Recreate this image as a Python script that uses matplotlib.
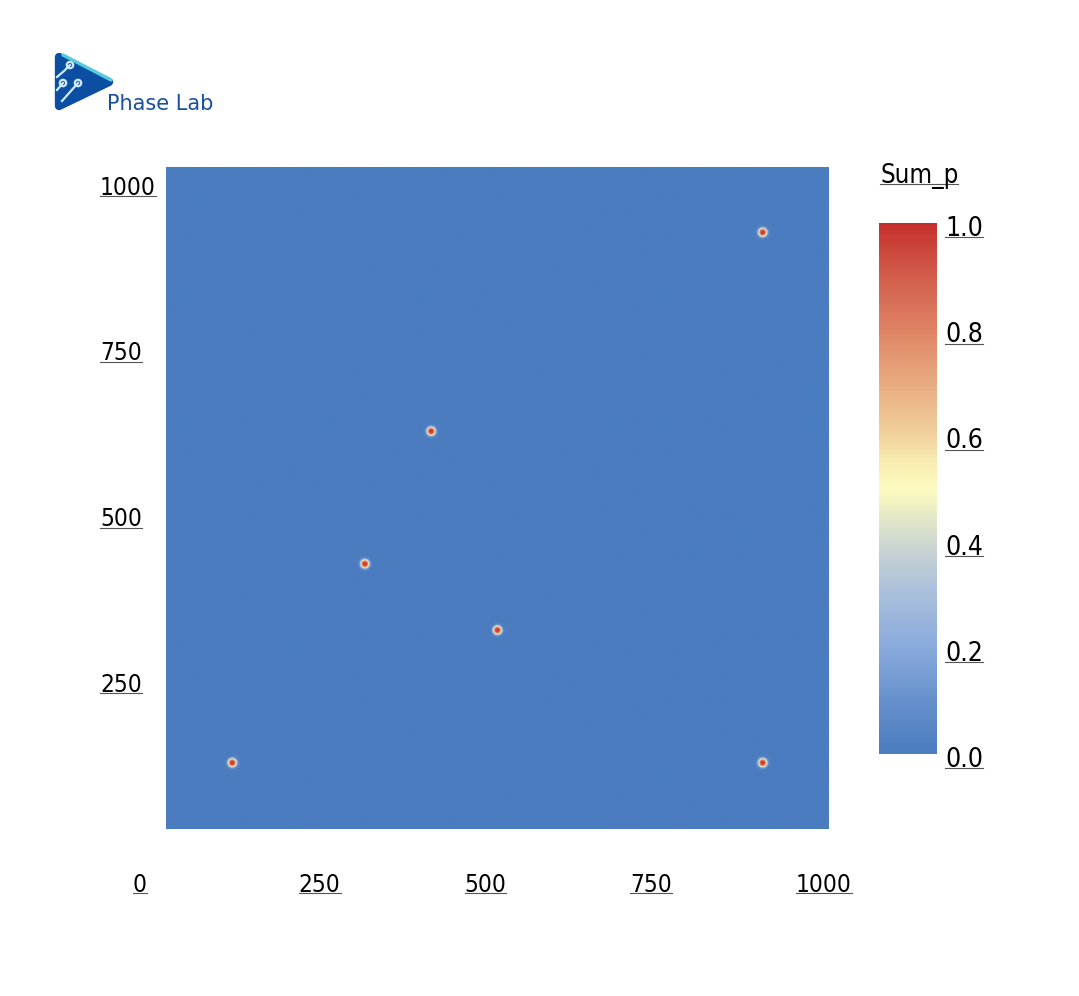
import numpy as np
import matplotlib
matplotlib.use("Agg")
import matplotlib.pyplot as plt
from matplotlib import transforms, font_manager
from matplotlib.font_manager import FontProperties
from matplotlib.colors import LinearSegmentedColormap, Normalize
from matplotlib.cm import ScalarMappable
from matplotlib.patches import Polygon, Circle
from matplotlib.lines import Line2D

# ---------------- data ----------------
seed_x = [100, 300, 400, 500, 900, 900]
seed_y = [100, 400, 600, 300, 900, 100]
seed_radius = 6.0
interface_width = 2.5
domain = [0, 1000]
x_ticks = [0, 250, 500, 750, 1000]
y_ticks = [250, 500, 750, 1000]
cbar_ticks = [0.0, 0.2, 0.4, 0.6, 0.8, 1.0]
cbar_title = "Sum_p"
logo_text = "Phase Lab"

cmap_positions = [0.00, 0.10, 0.20, 0.30, 0.38, 0.45, 0.50, 0.55, 0.60, 0.70, 0.80, 0.90, 1.00]
cmap_colors = ["#4a7cbf", "#6690cc", "#89aadc", "#a9bfdc", "#c6d2d4", "#e6eac6", "#fdfbc0",
               "#f8ecb0", "#f1d29c", "#e9ab80", "#de8264", "#d25e4c", "#c6302c"]

# ---------------- fonts ----------------
ttf = font_manager.fontManager.ttflist
names = {f.name for f in ttf}
_font_path = None
if "Liberation Sans Narrow" in names:
    _font_path = [f.fname for f in ttf if f.name == "Liberation Sans Narrow" and f.weight in (400, "normal", "regular") and f.style == "normal"]
    _font_path = _font_path[0] if _font_path else None
if _font_path is None:
    cond = [f.fname for f in ttf if f.name == "DejaVu Sans" and "condensed" in str(f.stretch) and f.style == "normal" and f.weight in (400, "normal")]
    _font_path = cond[0] if cond else None


def fp(size):
    if _font_path:
        p = FontProperties(fname=_font_path)
    else:
        p = FontProperties(family="Roboto")
    p.set_size(size)
    return p


# ---------------- figure ----------------
W, H = 1079, 996
fig = plt.figure(figsize=(W / 100, H / 100), dpi=100)
fig.patch.set_facecolor("white")


def px_rect(l, t, r, b):
    return [l / W, 1 - b / H, (r - l) / W, (b - t) / H]


cmap = LinearSegmentedColormap.from_list("sum_p", list(zip(cmap_positions, cmap_colors)))
norm = Normalize(vmin=0.0, vmax=1.0)

ax = fig.add_axes(px_rect(166, 166, 829, 830))
xs = np.arange(domain[0] + 0.5, domain[1], 1.0)
X, Y = np.meshgrid(xs, xs)
field = np.zeros_like(X)
for sx, sy in zip(seed_x, seed_y):
    r = np.hypot(X - sx, Y - sy)
    field += 0.5 * (1 - np.tanh((r - seed_radius) / interface_width))
field = np.clip(field, 0, 1)
ax.imshow(field, origin="lower", extent=[domain[0], domain[1], domain[0], domain[1]],
          cmap=cmap, norm=norm, interpolation="bilinear")
ax.set_xlim(domain)
ax.set_ylim(domain)
ax.set_axis_off()

texts = []

tx = transforms.blended_transform_factory(ax.transData, ax.transAxes)
for v in x_ticks:
    t = ax.text(v, 0, str(v), transform=transforms.offset_copy(tx, fig=fig, x=-33, y=-62, units="dots"),
                ha="left", va="baseline", fontproperties=fp(17.5), color="black")
    texts.append(t)

ty = transforms.blended_transform_factory(ax.transAxes, ax.transData)
for v in y_ticks:
    t = ax.text(0, v, str(v), transform=transforms.offset_copy(ty, fig=fig, x=-66, y=-28, units="dots"),
                ha="left", va="baseline", fontproperties=fp(17.5), color="black")
    texts.append(t)

# ---------------- colorbar ----------------
cax = fig.add_axes(px_rect(879, 223, 937, 754))
cb = fig.colorbar(ScalarMappable(norm=norm, cmap=cmap), cax=cax)
cb.outline.set_visible(False)
cb.set_ticks([])
tc = transforms.blended_transform_factory(cax.transAxes, cax.transData)
for v in cbar_ticks:
    t = cax.text(1, v, f"{v:.1f}", transform=transforms.offset_copy(tc, fig=fig, x=8, y=-13, units="dots"),
                 ha="left", va="baseline", fontproperties=fp(19), color="black")
    texts.append(t)

t = fig.text(880 / W, 1 - 183 / H, cbar_title, ha="left", va="baseline", fontproperties=fp(18.5), color="black")
texts.append(t)

# ---------------- logo ----------------
lax = fig.add_axes([0, 0, 1, 1])
lax.set_xlim(0, W)
lax.set_ylim(H, 0)
lax.set_axis_off()
lax.add_patch(Polygon([(59, 57), (109, 82), (59, 106)], closed=True, fc="#0b4ea2", ec="#0b4ea2",
                      lw=6, joinstyle="round"))
lax.plot([63, 111], [55, 80], color="#55cbe0", lw=2.4, solid_capstyle="round")
circ_col = "#cfe9f6"
lax.plot([70, 64, 57], [65, 71, 77], color=circ_col, lw=1.6)
lax.plot([63, 57], [83, 90], color=circ_col, lw=1.6)
lax.plot([78, 70, 62], [83, 92, 101], color=circ_col, lw=1.6)
for cx, cy in [(70, 65), (63, 83), (78, 83)]:
    lax.add_patch(Circle((cx, cy), 3.2, fc="#0b4ea2", ec=circ_col, lw=1.6))
lax.text(107, 110, logo_text, ha="left", va="baseline", fontsize=15, color="#1a4fa0",
         family="DejaVu Sans", fontweight="medium")

# ---------------- underlines (as in reference rendering) ----------------
fig.canvas.draw()
renderer = fig.canvas.get_renderer()
for t in texts:
    bb = t.get_window_extent(renderer)
    base = t.get_transform().transform(t.get_position())
    y = base[1] - 1.5
    fig.add_artist(Line2D([bb.x0 / W, bb.x1 / W], [y / H, y / H], transform=fig.transFigure,
                          lw=0.8, color="#555555"))

fig.savefig("out.png", dpi=100, facecolor="white")
